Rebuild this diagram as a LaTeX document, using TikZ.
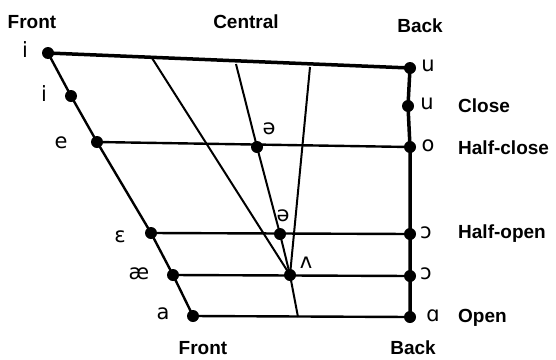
\documentclass[tikz,border=0pt]{standalone}
\usepackage{fontspec}
\setmainfont{Liberation Sans}
\newfontfamily\ipafont{DejaVu Sans}
\begin{document}
\begin{tikzpicture}[x=1pt,y=-1pt,
  dot/.style={circle,fill=black,inner sep=0pt,minimum size=12pt},
  heading/.style={font=\fontsize{19}{20}\selectfont\bfseries,inner sep=0pt},
  vowel/.style={font=\ipafont\fontsize{21}{22}\selectfont,inner sep=0pt},
  thickline/.style={line width=3.5pt},
  midline/.style={line width=2.4pt},
  thinline/.style={line width=2pt}]
\useasboundingbox (0,0) rectangle (556,359);
% dots front
\node[dot] (fi) at (48,53) {};
\node[dot] (fI) at (71,96) {};
\node[dot] (fe) at (97,142) {};
\node[dot] (feps) at (151,233) {};
\node[dot] (fae) at (173,275) {};
\node[dot] (fa) at (193,316) {};
% dots back
\node[dot] (bu) at (410,68) {};
\node[dot] (bU) at (408,106) {};
\node[dot] (bo) at (410,147) {};
\node[dot] (bc) at (410,234) {};
\node[dot] (bcc) at (410,276) {};
\node[dot] (ba) at (410,317) {};
% central dots
\node[dot] (schwa) at (257,147) {};
\node[dot] (schwb) at (280,234) {};
\node[dot] (wedge) at (290,275) {};
\coordinate (t1) at (152,58);
\coordinate (t2) at (236,64);
\coordinate (t3) at (310,67);
\coordinate (bot) at (298,317);
% lines
\draw[thickline,line cap=round] (fi.center) -- (bu.center);
\draw[thickline] (bu.center) -- (bU.center) -- (bo.center) -- (bc.center) -- (bcc.center) -- (ba.center);
\draw[midline] (fi.center) -- (fI.center) -- (fe.center) -- (feps.center) -- (fae.center) -- (fa.center);
\draw[midline] (fe.center) -- (bo.center);
\draw[midline] (feps.center) -- (bc.center);
\draw[midline] (fae.center) -- (bcc.center);
\draw[midline] (fa.center) -- (ba.center);
\draw[thinline] (t1) -- (wedge.center);
\draw[thinline] (t2) -- (schwa.center) -- (schwb.center) -- (wedge.center);
\draw[thinline] (t3) -- (wedge.center);
\draw[thinline] (wedge.center) -- (bot);
% headings
\node[heading] (hfront) at (32,22) {Front};
\node[heading] (hcentral) at (246,22) {Central};
\node[heading] (hback) at (420,26) {Back};
\node[heading] (hbfront) at (203,348) {Front};
\node[heading] (hbback) at (413,348) {Back};
\node[heading,anchor=west] (lclose) at (458,106) {Close};
\node[heading,anchor=west] (lhclose) at (458,148) {Half-close};
\node[heading,anchor=west] (lhopen) at (458,234) {Half-open};
\node[heading,anchor=west] (lopen) at (458,318) {Open};
% vowels
\node[vowel] (vi) at (25,50) {i};
\node[vowel] (vI) at (44,94) {i};
\node[vowel] (ve) at (61,143) {e};
\node[vowel] (veps) at (120,237) {ε};
\node[vowel] (vae) at (139,274) {æ};
\node[vowel] (va) at (163,314) {a};
\node[vowel] (vu) at (428,66) {u};
\node[vowel] (vU) at (427,104) {u};
\node[vowel] (vo) at (428,146) {o};
\node[vowel] (vc) at (426,233) {ɔ};
\node[vowel] (vcc) at (426,274) {ɔ};
\node[vowel] (vaa) at (433,316) {ɑ};
\node[vowel] (vschwa) at (269,129) {ə};
\node[vowel] (vschwb) at (283,216) {ə};
\node[vowel] (vwedge) at (306,263) {ʌ};
\end{tikzpicture}
\end{document}
